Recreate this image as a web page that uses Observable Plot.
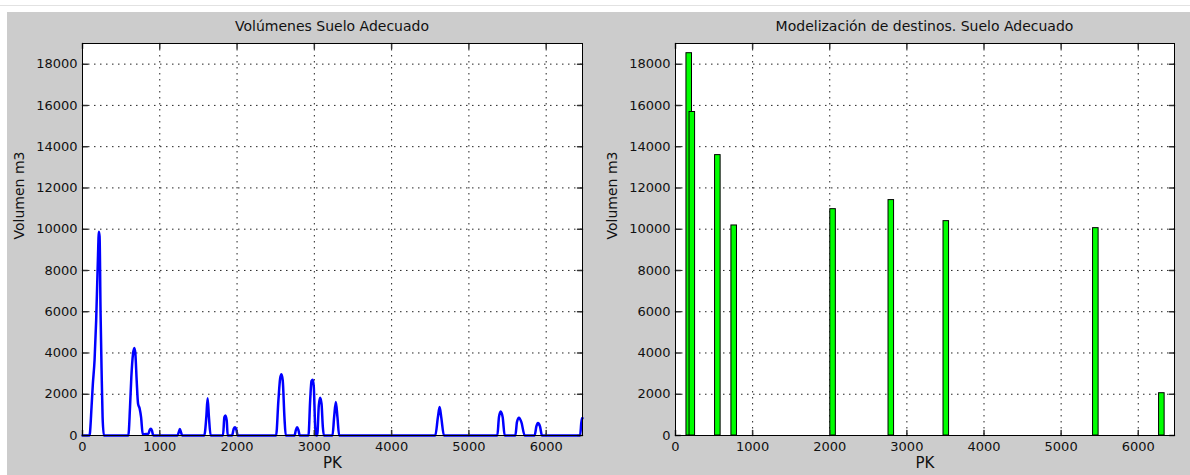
<!DOCTYPE html>
<html><head><meta charset="utf-8">
<script src="https://cdn.jsdelivr.net/npm/d3@7"></script>
<script src="https://cdn.jsdelivr.net/npm/@observablehq/plot@0.6"></script>
<style>
body{margin:0;background:#fff;width:1190px;height:475px;position:relative;overflow:hidden;font-family:"DejaVu Sans",sans-serif;}
#topline{position:absolute;left:0;top:5px;width:1190px;height:1px;background:#e2e2e2;}
#panel{position:absolute;left:7px;top:12px;width:1183px;height:463px;background:#cccccc;}
.title{position:absolute;top:18px;font-size:14px;line-height:16px;color:#111;text-align:center;white-space:nowrap;}
.chart{position:absolute;top:36px;}
</style></head><body>
<div id="topline"></div><div id="panel"></div>
<div class="title" style="left:82px;width:500px">Volúmenes Suelo Adecuado</div>
<div class="title" style="left:675px;width:499px">Modelización de destinos. Suelo Adecuado</div>
<div class="chart" id="c1" style="left:0px"></div>
<div class="chart" id="c2" style="left:600px"></div>
<script>
// Tick values
const xTicks = [0, 1000, 2000, 3000, 4000, 5000, 6000];
const yTicks = [0, 2000, 4000, 6000, 8000, 10000, 12000, 14000, 16000, 18000];
const xMax = 6470;
const yMax = 19000;

// Left: volumes along PK
const pkLine = [0, 90, 95, 117, 134, 156, 177, 199, 212, 221, 234, 247, 260, 277,
  593, 615, 632, 654, 671, 684, 701, 719, 740, 758, 779, 797, 853, 868, 883, 898, 910, 920,
  1229, 1245, 1260, 1275, 1290,
  1576, 1602, 1619, 1636, 1658,
  1818, 1836, 1849, 1866, 1879,
  1935, 1957, 1974, 1991, 2009,
  2505, 2535, 2557, 2574, 2591, 2613, 2630,
  2743, 2760, 2777, 2795, 2812,
  2924, 2946, 2963, 2980, 2993, 3011, 3022,
  3037, 3058, 3075, 3093, 3110, 3123,
  3235, 3256, 3278, 3299, 3321,
  4565, 4599, 4621, 4642, 4677,
  5368, 5389, 5411, 5437, 5463,
  5601, 5622, 5648, 5679, 5722,
  5851, 5873, 5894, 5920, 5946,
  6439, 6461, 6470];
const volLine = [0, 0, 80, 1380, 2500, 3650, 5590, 8500, 9880, 9640, 5900, 3160, 890, 0,
  0, 1380, 2835, 3970, 4245, 3970, 2670, 1540, 1300, 890, 80, 60, 80, 250, 325, 250, 60, 0,
  0, 150, 310, 150, 0,
  0, 890, 1810, 890, 0,
  0, 890, 970, 730, 0,
  0, 325, 405, 275, 0,
  0, 1700, 2750, 2965, 2670, 890, 0,
  0, 250, 405, 250, 0,
  0, 1700, 2640, 2705, 2350, 405, 0,
  0, 1460, 1830, 1540, 405, 0,
  0, 890, 1620, 890, 0,
  0, 890, 1377, 890, 0,
  0, 890, 1166, 890, 0,
  0, 650, 860, 650, 0,
  0, 440, 600, 440, 0,
  0, 840, 840];

// Right: modelled destinations
const pkBars = [178, 218, 549, 761, 2043, 2798, 3511, 5450, 6306];
const volBars = [18530, 15680, 13590, 10180, 10970, 11410, 10390, 10050, 2050];
const barHalf = 36;

const lineData = pkLine.map((p, i) => ({pk: p, v: volLine[i]}));
const barData = pkBars.map((p, i) => ({x1: p - barHalf, x2: p + barHalf, v: volBars[i]}));

const tickShape = {draw(ctx, l) { ctx.moveTo(0, 0); ctx.lineTo(0, -l); }};

function chart(dataMarks, width, marginLeft, marginRight) {
  return Plot.plot({
    width, height: 439,
    marginTop: 7, marginBottom: 40, marginLeft, marginRight,
    style: {background: "transparent", fontFamily: "DejaVu Sans", fontSize: "13px", color: "#111", overflow: "visible"},
    x: {domain: [0, xMax]},
    y: {domain: [0, yMax]},
    marks: [
      Plot.frame({fill: "white", stroke: "none"}),
      Plot.gridX(xTicks, {stroke: "#222", strokeOpacity: 1, strokeDasharray: "1.5,4.5"}),
      Plot.gridY(yTicks, {stroke: "#222", strokeOpacity: 1, strokeDasharray: "1.5,4.5"}),
      ...dataMarks,
      Plot.vector(yTicks, {y: d => d, frameAnchor: "left", rotate: 90, length: 5, anchor: "start", shape: tickShape, stroke: "#333"}),
      Plot.vector(yTicks, {y: d => d, frameAnchor: "right", rotate: -90, length: 5, anchor: "start", shape: tickShape, stroke: "#333"}),
      Plot.vector(xTicks, {x: d => d, frameAnchor: "bottom", rotate: 0, length: 5, anchor: "start", shape: tickShape, stroke: "#333"}),
      Plot.vector(xTicks, {x: d => d, frameAnchor: "top", rotate: 180, length: 5, anchor: "start", shape: tickShape, stroke: "#333"}),
      Plot.axisY(yTicks, {anchor: "left", tickSize: 0, tickPadding: 5, tickFormat: "d", label: null}),
      Plot.axisX(xTicks, {anchor: "bottom", tickSize: 0, tickPadding: 6, tickFormat: "d", label: null}),
      Plot.text(["Volumen m3"], {text: d => d, frameAnchor: "left", dx: -63, rotate: -90, fontSize: 14}),
      Plot.text(["PK"], {text: d => d, frameAnchor: "bottom", dy: 32, fontSize: 15}),
      Plot.frame({stroke: "#000"})
    ]
  });
}

document.getElementById("c1").append(chart([
  Plot.line(lineData, {x: "pk", y: "v", stroke: "#0000ff", strokeWidth: 2.5, curve: "monotone-x"})
], 600, 82, 18));

document.getElementById("c2").append(chart([
  Plot.rectY(barData, {x1: "x1", x2: "x2", y: "v", fill: "#00ff00", stroke: "#000", strokeWidth: 1})
], 590, 75, 16));
</script>
</body></html>
